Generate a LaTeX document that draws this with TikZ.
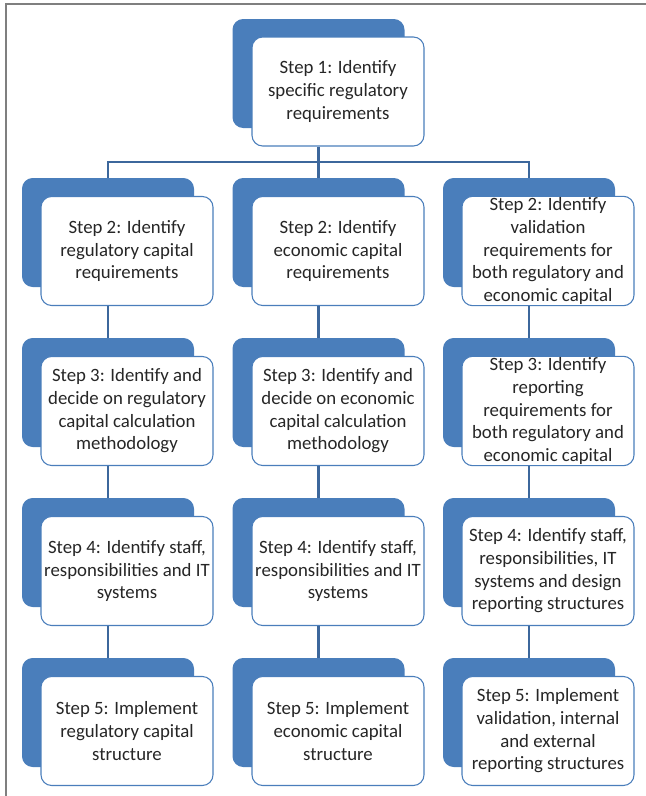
\documentclass[tikz,border=0pt]{standalone}
\usepackage{fontspec}
\setmainfont{Carlito}

\def\BACKCOLOR{stepblue}
\def\LINECOLOR{linkblue}
\definecolor{stepblue}{HTML}{4A7EBB}
\definecolor{linkblue}{HTML}{3C679C}
\definecolor{framegray}{HTML}{7F7F7F}

\tikzset{
	backbox/.style={fill=\BACKCOLOR, rounded corners=8pt, minimum width=129pt, minimum height=81.75pt, inner sep=0pt},
	stepbox/.style={draw=\BACKCOLOR, fill=white, line width=0.8pt, rounded corners=8pt, minimum width=129pt, minimum height=81.75pt, inner sep=1pt, align=center, font=\fontsize{14.1}{17}\selectfont, text=black!85},
	link/.style={draw=\LINECOLOR, line width=1.6pt}
}

\begin{document}
\begin{tikzpicture}[x=0.75pt,y=-0.75pt]

	\useasboundingbox (0,0) rectangle (646,796);
	\draw[framegray,line width=1.2pt] (6,796) -- (6,4) -- (646,4);

	% step 1
	\node[backbox] (b1) at (318.5,73.5) {};
	\node[stepbox] (s1) at (338,91.5) {Step 1: Identify\\specific regulatory\\requirements};

	% regulatory column
	\node[backbox] (b2a) at (108,232.5) {};
	\node[stepbox] (s2a) at (127,251) {Step 2: Identify\\regulatory capital\\requirements};
	\node[backbox] (b3a) at (108,392.5) {};
	\node[stepbox] (s3a) at (127,411) {Step 3: Identify and\\decide on regulatory\\capital calculation\\methodology};
	\node[backbox] (b4a) at (108,552.5) {};
	\node[stepbox] (s4a) at (127,571) {Step 4: Identify staff,\\responsibilities and IT\\systems};
	\node[backbox] (b5a) at (108,712.5) {};
	\node[stepbox] (s5a) at (127,731) {Step 5: Implement\\regulatory capital\\structure};

	% economic column
	\node[backbox] (b2b) at (318.5,232.5) {};
	\node[stepbox] (s2b) at (338,251) {Step 2: Identify\\economic capital\\requirements};
	\node[backbox] (b3b) at (318.5,392.5) {};
	\node[stepbox] (s3b) at (338,411) {Step 3: Identify and\\decide on economic\\capital calculation\\methodology};
	\node[backbox] (b4b) at (318.5,552.5) {};
	\node[stepbox] (s4b) at (338,571) {Step 4: Identify staff,\\responsibilities and IT\\systems};
	\node[backbox] (b5b) at (318.5,712.5) {};
	\node[stepbox] (s5b) at (338,731) {Step 5: Implement\\economic capital\\structure};

	% validation and reporting column
	\node[backbox] (b2c) at (529,232.5) {};
	\node[stepbox] (s2c) at (548,251) {Step 2: Identify\\validation\\requirements for\\both regulatory and\\economic capital};
	\node[backbox] (b3c) at (529,392.5) {};
	\node[stepbox] (s3c) at (548,411) {Step 3: Identify\\reporting\\requirements for\\both regulatory and\\economic capital};
	\node[backbox] (b4c) at (529,552.5) {};
	\node[stepbox] (s4c) at (548,571) {Step 4: Identify staff,\\responsibilities, IT\\systems and design\\reporting structures};
	\node[backbox] (b5c) at (529,712.5) {};
	\node[stepbox] (s5c) at (548,731) {Step 5: Implement\\validation, internal\\and external\\reporting structures};

	% connectors
	\coordinate (fork) at (318.5,162);
	\draw[link] (b1 |- s1.south) -- (fork);
	\draw[link] (fork) -| (b2a.north);
	\draw[link] (fork) -- (b2b.north);
	\draw[link] (fork) -| (b2c.north);
	\draw[link] (b3a |- s2a.south) -- (b3a.north);
	\draw[link] (b4a |- s3a.south) -- (b4a.north);
	\draw[link] (b5a |- s4a.south) -- (b5a.north);
	\draw[link] (b3b |- s2b.south) -- (b3b.north);
	\draw[link] (b4b |- s3b.south) -- (b4b.north);
	\draw[link] (b5b |- s4b.south) -- (b5b.north);
	\draw[link] (b3c |- s2c.south) -- (b3c.north);
	\draw[link] (b4c |- s3c.south) -- (b4c.north);
	\draw[link] (b5c |- s4c.south) -- (b5c.north);

\end{tikzpicture}
\end{document}
